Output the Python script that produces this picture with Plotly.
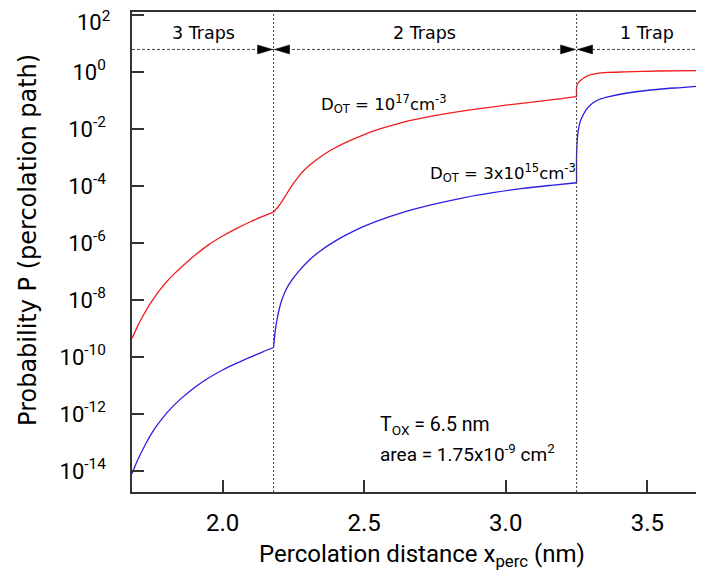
import plotly.graph_objects as go

# ---- data (log10 of probability), one list per trap region ----
red_x_3traps = [1.68, 1.70, 1.72, 1.74, 1.76, 1.78, 1.80, 1.83, 1.86, 1.90, 1.95, 2.00, 2.05, 2.10, 2.14, 2.18]
red_logp_3traps = [-9.35, -8.92, -8.54, -8.20, -7.90, -7.63, -7.39, -7.08, -6.80, -6.45, -6.07, -5.76, -5.49, -5.25, -5.08, -4.92]
red_x_2traps = [2.18, 2.20, 2.22, 2.24, 2.26, 2.28, 2.31, 2.34, 2.38, 2.43, 2.50, 2.57, 2.64, 2.72, 2.80, 2.90, 3.00, 3.10, 3.18, 3.25]
red_logp_2traps = [-4.92, -4.68, -4.38, -4.06, -3.78, -3.53, -3.25, -3.02, -2.76, -2.50, -2.20, -1.96, -1.76, -1.59, -1.45, -1.30, -1.17, -1.05, -0.96, -0.87]
red_x_1trap = [3.25, 3.25, 3.253, 3.259, 3.27, 3.283, 3.30, 3.323, 3.36, 3.42, 3.54, 3.70]
red_logp_1trap = [-0.87, -0.55, -0.44, -0.35, -0.25, -0.17, -0.10, -0.05, -0.02, 0.0, 0.03, 0.05]

blue_x_3traps = [1.68, 1.70, 1.73, 1.76, 1.79, 1.82, 1.85, 1.90, 1.95, 2.00, 2.05, 2.10, 2.14, 2.18]
blue_logp_3traps = [-14.1, -13.62, -13.02, -12.52, -12.12, -11.78, -11.49, -11.08, -10.74, -10.46, -10.22, -10.00, -9.83, -9.67]
blue_x_2traps = [2.18, 2.183, 2.187, 2.193, 2.20, 2.21, 2.225, 2.245, 2.27, 2.30, 2.34, 2.40, 2.47, 2.55, 2.64, 2.74, 2.85, 2.96, 3.06, 3.16, 3.25]
blue_logp_2traps = [-9.67, -9.35, -9.0, -8.65, -8.32, -7.98, -7.62, -7.30, -6.98, -6.66, -6.32, -5.92, -5.55, -5.22, -4.92, -4.66, -4.42, -4.23, -4.09, -3.98, -3.89]
blue_x_1trap = [3.25, 3.25, 3.252, 3.255, 3.26, 3.265, 3.283, 3.306, 3.33, 3.365, 3.424, 3.54, 3.62, 3.70]
blue_logp_1trap = [-3.89, -2.9, -2.45, -2.12, -1.85, -1.69, -1.34, -1.10, -0.97, -0.87, -0.75, -0.61, -0.55, -0.49]

boundaries = [2.18, 3.25]
region_labels = ["3 Traps", "2 Traps", "1 Trap"]
region_centers = [1.934, 2.713, 3.499]

x_tickvals = [2.0, 2.5, 3.0, 3.5]
x_ticktext = ["2.0", "2.5", "3.0", "3.5"]
y_exponents = [0, -2, -4, -6, -8, -10, -12, -14]
y_top_exponent = 2

NARROW = "Roboto, Liberation Sans, sans-serif"
HUMAN = "DejaVu Sans, Noto Sans, sans-serif"
AX = "#333333"
RED = "#f21c1c"
BLUE = "#2c1ee0"

fig = go.Figure()
for xs, ys, col in [
    (red_x_3traps, red_logp_3traps, RED), (red_x_2traps, red_logp_2traps, RED), (red_x_1trap, red_logp_1trap, RED),
    (blue_x_3traps, blue_logp_3traps, BLUE), (blue_x_2traps, blue_logp_2traps, BLUE), (blue_x_1trap, blue_logp_1trap, BLUE),
]:
    fig.add_trace(go.Scatter(x=xs, y=[10 ** v for v in ys], mode="lines",
                             line=dict(color=col, width=1.3, shape="spline", smoothing=0.8),
                             showlegend=False))

shapes = []
arrow_y = 0.922
for b in boundaries:
    shapes.append(dict(type="line", xref="x", yref="paper", x0=b, x1=b, y0=0, y1=1,
                       line=dict(color="#444444", width=1, dash="2px,2px")))
    shapes.append(dict(type="path", xref="x", yref="paper", xsizemode="pixel", ysizemode="pixel",
                       xanchor=b, yanchor=arrow_y, path="M-1,0 L-16,4.5 L-16,-4.5 Z",
                       fillcolor="black", line=dict(color="black", width=0.5)))
    shapes.append(dict(type="path", xref="x", yref="paper", xsizemode="pixel", ysizemode="pixel",
                       xanchor=b, yanchor=arrow_y, path="M1,0 L16,4.5 L16,-4.5 Z",
                       fillcolor="black", line=dict(color="black", width=0.5)))
shapes.append(dict(type="line", xref="paper", yref="paper", x0=0, x1=1, y0=arrow_y, y1=arrow_y,
                   line=dict(color="#444444", width=1, dash="3px,2px"), layer="below"))

annotations = []
for lab, c in zip(region_labels, region_centers):
    annotations.append(dict(text=lab, x=c, y=0.956, xref="x", yref="paper", showarrow=False,
                            xanchor="center", yanchor="middle", font=dict(family=HUMAN, size=17.5, color="black")))
annotations += [
    # top decade label (placed by hand so it is not cut by the page edge)
    dict(text="10<sup>%d</sup>" % y_top_exponent, x=-0.035, y=1.012, xref="paper", yref="paper",
         showarrow=False, xanchor="right", yanchor="top", borderpad=0,
         font=dict(family=NARROW, size=22, color="black")),
    dict(text="D<sub>OT</sub> = 10<sup>17</sup>cm<sup>-3</sup>", x=2.34, y=0.808, xref="x", yref="paper",
         showarrow=False, xanchor="left", yanchor="middle", font=dict(family=HUMAN, size=16.5, color="black")),
    dict(text="D<sub>OT</sub> = 3x10<sup>15</sup>cm<sup>-3</sup>", x=2.725, y=0.665, xref="x", yref="paper",
         showarrow=False, xanchor="left", yanchor="middle", font=dict(family=HUMAN, size=16.5, color="black")),
    dict(text="T<sub>OX</sub> = 6.5 nm", x=2.547, y=0.138, xref="x", yref="paper",
         showarrow=False, xanchor="left", yanchor="middle", font=dict(family=NARROW, size=19.5, color="black")),
    dict(text="area = 1.75x10<sup>-9</sup> cm<sup>2</sup>", x=2.547, y=0.081, xref="x", yref="paper",
         showarrow=False, xanchor="left", yanchor="middle", font=dict(family=NARROW, size=19, color="black")),
    dict(text="Percolation distance x<sub>perc</sub> (nm)", x=0.507, y=-0.133, xref="paper", yref="paper",
         showarrow=False, xanchor="center", yanchor="middle", font=dict(family=NARROW, size=24, color="black")),
    dict(text="Probability P (percolation path)", x=-0.182, y=0.525, xref="paper", yref="paper",
         showarrow=False, xanchor="center", yanchor="middle", textangle=-90,
         font=dict(family=HUMAN, size=24, color="black")),
]

all_exp = [y_top_exponent] + y_exponents
fig.update_layout(
    width=704, height=582,
    margin=dict(l=124, r=8, t=4, b=98, autoexpand=False),
    paper_bgcolor="white", plot_bgcolor="white",
    shapes=shapes, annotations=annotations,
    xaxis=dict(range=[1.68, 3.70], tickvals=x_tickvals, ticktext=x_ticktext,
               ticks="inside", ticklen=12, tickwidth=1.5, tickcolor=AX,
               showline=True, linecolor=AX, linewidth=1.5, mirror=True,
               showgrid=False, zeroline=False, ticklabelstandoff=8, automargin=False,
               ticklabeloverflow="allow",
               tickfont=dict(family=NARROW, size=24, color="black")),
    yaxis=dict(type="log", range=[-14.74, 2.1],
               tickvals=[10 ** e for e in all_exp],
               ticktext=[""] + ["10<sup>%d</sup>" % e for e in y_exponents],
               ticks="inside", ticklen=12, tickwidth=1.5, tickcolor=AX,
               showline=True, linecolor=AX, linewidth=1.5, mirror=False,
               showgrid=False, zeroline=False, ticklabelstandoff=20, automargin=False,
               ticklabeloverflow="allow",
               tickfont=dict(family=NARROW, size=22, color="black")),
)

fig.write_html("out.html")
